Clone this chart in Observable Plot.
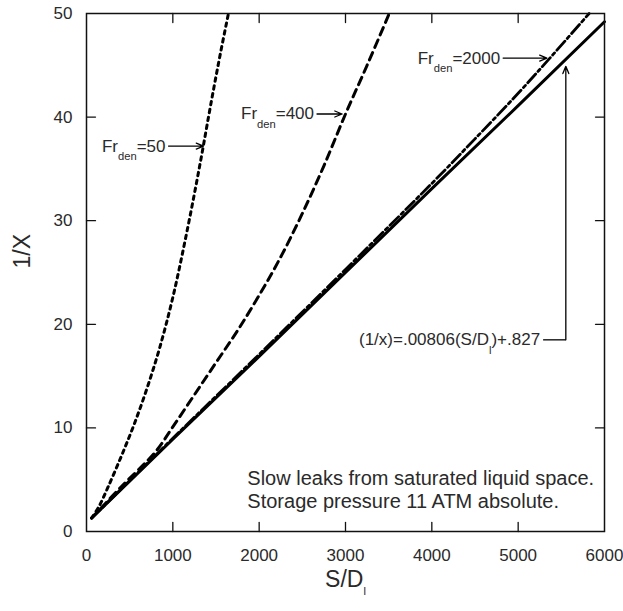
<!DOCTYPE html>
<html><head><meta charset="utf-8">
<script src="https://cdn.jsdelivr.net/npm/d3@7"></script>
<script src="https://cdn.jsdelivr.net/npm/@observablehq/plot@0.6"></script>
<style>
body{margin:0;background:#fff}
#chart svg{font-family:"Liberation Sans",Arial,sans-serif;overflow:visible}
</style>
</head><body><div id="chart"></div>
<script>
// ---- data ----
const xTicks = [0, 1000, 2000, 3000, 4000, 5000, 6000];
const yTicks = [0, 10, 20, 30, 40, 50];
const xLabel = "S/D_{l}";
const yLabel = "1/X";

// correlation (solid)
const fitX = [60, 1000, 2000, 3000, 4000, 5000, 6000];
const fitY = [1.3, 8.9, 16.9, 25.0, 33.1, 41.1, 49.2];
// Fr_den = 2000 (dash-dot)
const fr2000X = [60, 1000, 2000, 3000, 4000, 4500, 5000, 5400, 5822];
const fr2000Y = [1.3, 9.0, 17.1, 25.3, 33.6, 37.9, 42.3, 46.0, 50.0];
// Fr_den = 400 (dashed)
const fr400X = [60, 400, 800, 1000, 1250, 1500, 1750, 2000, 2250, 2500, 2750, 3000, 3250, 3507];
const fr400Y = [1.3, 4.3, 7.7, 10.1, 13.2, 16.3, 19.4, 22.8, 26.5, 30.7, 35.3, 40.3, 45.0, 50.0];
// Fr_den = 50 (dotted)
const fr50X = [60, 150, 250, 400, 550, 700, 850, 1000, 1150, 1300, 1450, 1550, 1644];
const fr50Y = [1.3, 2.5, 4.3, 7.2, 10.3, 13.8, 17.8, 22.6, 28.4, 34.8, 41.7, 46.1, 50.0];

// annotations
const labelText = ["Fr_{den}=50", "Fr_{den}=400", "Fr_{den}=2000", "(1/x)=.00806(S/D_{l})+.827"];
const labelX = [950, 2670, 4826, 5289];
const labelY = [37.2, 40.3, 45.7, 18.5];
const arrowX1 = [950, 2670, 4826, 5552];
const arrowY1 = [37.2, 40.3, 45.7, 18.5];
const arrowX2 = [1355, 2960, 5333, 5552];
const arrowY2 = [37.2, 40.3, 45.7, 44.9];
const leaderX1 = [5289], leaderX2 = [5552], leaderY = [18.5];
const noteText = ["Slow leaks from saturated liquid space.\nStorage pressure 11 ATM absolute."];
const noteX = [1863], noteY = [4.1];

// ---- chart ----
const tickShape = {draw(ctx, l) { ctx.moveTo(0, 0); ctx.lineTo(0, -l); }};
const inner = (a) => a.slice(1, -1);
const ink = "#000", textInk = "#2a2a2a";

const chart = Plot.plot({
  width: 623, height: 611,
  marginLeft: 86, marginRight: 19, marginTop: 13, marginBottom: 80,
  x: {domain: [0, 6000], axis: null},
  y: {domain: [0, 50], axis: null},
  style: {fontFamily: "Liberation Sans, Arial, sans-serif", color: textInk, background: "#fff"},
  marks: [
    Plot.line(fitX, {x: fitX, y: fitY, stroke: ink, strokeWidth: 3}),
    Plot.line(fr2000X, {x: fr2000X, y: fr2000Y, curve: "catmull-rom", stroke: ink, strokeWidth: 2.8, strokeDasharray: "12,3.5,3,3.5"}),
    Plot.line(fr400X, {x: fr400X, y: fr400Y, curve: "catmull-rom", stroke: ink, strokeWidth: 3, strokeDasharray: "8,5.5"}),
    Plot.line(fr50X, {x: fr50X, y: fr50Y, curve: "catmull-rom", stroke: ink, strokeWidth: 3, strokeDasharray: "3.5,4.5"}),
    Plot.frame({stroke: "#111", strokeWidth: 1.5}),
    // inward ticks on all four sides
    Plot.vector(inner(xTicks), {x: d => d, y: 0, length: 9, rotate: 0, anchor: "start", shape: tickShape, stroke: "#111", strokeWidth: 1.3}),
    Plot.vector(inner(xTicks), {x: d => d, y: 50, length: 9, rotate: 180, anchor: "start", shape: tickShape, stroke: "#111", strokeWidth: 1.3}),
    Plot.vector(inner(yTicks), {x: 0, y: d => d, length: 9, rotate: 90, anchor: "start", shape: tickShape, stroke: "#111", strokeWidth: 1.3}),
    Plot.vector(inner(yTicks), {x: 6000, y: d => d, length: 9, rotate: 270, anchor: "start", shape: tickShape, stroke: "#111", strokeWidth: 1.3}),
    // tick labels
    Plot.text(xTicks, {x: d => d, y: 0, text: d => String(d), dy: 24, fontSize: 17, fill: textInk}),
    Plot.text(yTicks, {x: 0, y: d => d, text: d => String(d), textAnchor: "end", dx: -14, fontSize: 17, fill: textInk}),
    // axis labels
    Plot.text([yLabel], {frameAnchor: "left", text: d => d, dx: -64, dy: -4, rotate: -90, fontSize: 23, fill: textInk}),
    Plot.text([xLabel], {frameAnchor: "bottom", text: d => d, dy: 55, fontSize: 23, fill: textInk}),
    // annotations
    Plot.link(leaderX1, {x1: leaderX1, x2: leaderX2, y1: leaderY, y2: leaderY, stroke: ink, strokeWidth: 1.3}),
    Plot.arrow(arrowX1, {x1: arrowX1, y1: arrowY1, x2: arrowX2, y2: arrowY2, stroke: ink, strokeWidth: 1.3, headLength: 9, headAngle: 45}),
    Plot.text(labelText, {x: labelX, y: labelY, text: d => d, textAnchor: "end", dx: -3, fontSize: 17, fill: textInk}),
    Plot.text(noteText, {x: noteX, y: noteY, text: d => d, textAnchor: "start", lineHeight: 1.15, fontSize: 20, fill: textInk})
  ]
});

// turn "_{...}" into real subscript tspans
const NS = "http://www.w3.org/2000/svg";
chart.querySelectorAll("text").forEach(t => {
  const s = t.textContent;
  if (!s.includes("_{")) return;
  const fs = parseFloat(getComputedStyle(t).fontSize) || 17;
  const subFs = Math.round(fs * 0.66 * 10) / 10;
  const shift = Math.round(fs * 0.5 * 10) / 10;
  while (t.firstChild) t.removeChild(t.firstChild);
  let lowered = false;
  s.split(/(_\{[^}]*\})/).forEach(p => {
    if (!p) return;
    const ts = document.createElementNS(NS, "tspan");
    if (p.startsWith("_{")) {
      ts.textContent = p.slice(2, -1);
      ts.setAttribute("font-size", subFs);
      ts.setAttribute("dy", shift);
      lowered = true;
    } else {
      ts.textContent = p;
      if (lowered) { ts.setAttribute("dy", -shift); lowered = false; }
    }
    t.appendChild(ts);
  });
});

document.getElementById("chart").appendChild(chart);
</script>
</body></html>
